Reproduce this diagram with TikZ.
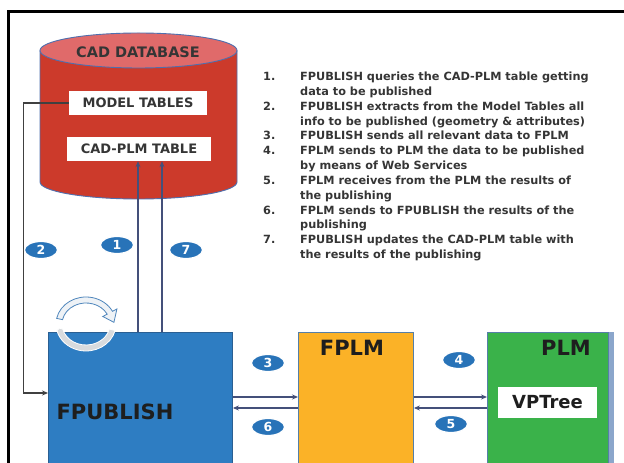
\documentclass[tikz,border=0pt]{standalone}
\usepackage{fontspec}
\setmainfont{DejaVu Sans}
\usetikzlibrary{shapes.geometric,calc,arrows.meta}

\definecolor{dbred}{HTML}{CC3A2B}
\definecolor{dbtop}{HTML}{E06A6A}
\definecolor{dbedge}{HTML}{4F6FAE}
\definecolor{pubblue}{HTML}{2E7DC2}
\definecolor{pubedge}{HTML}{2A5F92}
\definecolor{fplmorange}{HTML}{FBB227}
\definecolor{plmgreen}{HTML}{3AB24A}
\definecolor{stripblue}{HTML}{8BA6CB}
\definecolor{badgeblue}{HTML}{2873B8}
\definecolor{arrnavy}{HTML}{44507A}
\definecolor{linkgray}{HTML}{404040}
\definecolor{inkgray}{HTML}{1E1E1E}
\definecolor{cyclefill}{HTML}{EEF2F6}
\definecolor{cycleedge}{HTML}{4F86BC}

\tikzset{
  x=1pt, y=1pt,
  block/.style={rectangle, draw=pubedge, line width=0.9pt, anchor=north west,
    minimum height=141pt, inner sep=0pt},
  tbl/.style={rectangle, fill=white, inner sep=0pt, text=inkgray!90,
    font=\bfseries\fontsize{13}{13}\selectfont},
  title/.style={inner sep=0pt, text=inkgray, font=\bfseries\fontsize{21}{21}\selectfont},
  badge/.style={ellipse, fill=badgeblue, draw=white, line width=1.2pt,
    minimum width=33pt, minimum height=17pt, inner sep=0pt, text=white,
    font=\bfseries\fontsize{12.5}{12.5}\selectfont},
  arr/.style={-{Stealth[length=6pt,width=5pt]}, draw=arrnavy, line width=1.3pt},
  linkarr/.style={-{Stealth[length=6pt,width=5pt]}, draw=linkgray, line width=1.1pt},
}

\begin{document}
\begin{tikzpicture}
\useasboundingbox (0,0) rectangle (624,463);
\fill[white] (0,0) rectangle (624,463);

% outer frame (left and top edges)
\draw[line width=2.8pt] (8.7,-3) -- (8.7,451.3) -- (627,451.3);

% CAD database cylinder
\fill[dbred] (40,412.5) -- (40,281)
  arc[start angle=180, end angle=360, x radius=98.5, y radius=17] -- (237,412.5) -- cycle;
\draw[dbedge, line width=0.9pt] (40,412.5) -- (40,281)
  arc[start angle=180, end angle=360, x radius=98.5, y radius=17] -- (237,412.5);
\filldraw[fill=dbtop, draw=dbedge, line width=0.9pt] (138.5,412.5) ellipse [x radius=98.5, y radius=17.5];
\node[inner sep=0pt, text=inkgray!90, font=\bfseries\fontsize{14.5}{14.5}\selectfont] (db) at (138,411) {CAD DATABASE};
\node[tbl, minimum width=138pt, minimum height=24pt] (model) at (138,360) {MODEL TABLES};
\node[tbl, minimum width=144pt, minimum height=24pt] (cadplm) at (139,314) {CAD-PLM TABLE};

% process blocks
\node[block, fill=pubblue, minimum width=184pt] (pub) at (48,131) {};
\node[block, fill=fplmorange, draw=pubedge!80, minimum width=115pt] (fplm) at (298,131) {};
\node[block, fill=plmgreen, draw=pubedge!80, minimum width=121pt] (plm) at (487,131) {};
\fill[stripblue] (608.5,131) rectangle (614,-10);

\node[title] (pubtxt) at (115,51) {FPUBLISH};
\node[title] (fplmtxt) at (352,115) {FPLM};
\node[title] (plmtxt) at (566,115) {PLM};
\node[rectangle, fill=white, inner sep=0pt, minimum width=99pt, minimum height=31pt,
  text=inkgray, font=\bfseries\fontsize{18}{18}\selectfont] (vptree) at (547.5,60.5) {VPTree};

% cycle symbol on FPUBLISH
\coordinate (cyc) at (86,139);
\filldraw[fill=cyclefill, draw=cycleedge, line width=0.8pt]
  ($(cyc)+(168:30 and 27)$) arc[start angle=168, end angle=28, x radius=30, y radius=27]
  -- ($(cyc)+(28:35 and 32)$) -- ($(cyc)+(4:28 and 24)$) -- ($(cyc)+(28:19 and 16)$)
  -- ($(cyc)+(28:24 and 21)$) arc[start angle=28, end angle=168, x radius=24, y radius=21] -- cycle;
\filldraw[fill=cyclefill!80!gray, draw=white, line width=0.8pt]
  ($(cyc)+(-14:30 and 27)$) arc[start angle=-14, end angle=-166, x radius=30, y radius=27]
  -- ($(cyc)+(-170:27 and 24)$)
  -- ($(cyc)+(-166:24 and 21)$) arc[start angle=-166, end angle=-14, x radius=24, y radius=21] -- cycle;

% step list
\node[anchor=base west, inner sep=0pt, text=inkgray!90,
  font=\bfseries\fontsize{11.3}{14.85}\selectfont] (steps) at (263,382.5) {%
\begin{tabular}[t]{@{}p{37pt}@{}l@{}}
1. & FPUBLISH queries the CAD-PLM table getting\\
   & data to be published\\
2. & FPUBLISH extracts from the Model Tables all\\
   & info to be published (geometry \& attributes)\\
3. & FPUBLISH sends all relevant data to FPLM\\
4. & FPLM sends to PLM the data to be published\\
   & by means of Web Services\\
5. & FPLM receives from the PLM the results of\\
   & the publishing\\
6. & FPLM sends to FPUBLISH the results of the\\
   & publishing\\
7. & FPUBLISH updates the CAD-PLM table with\\
   & the results of the publishing
\end{tabular}};

% connectors
\draw[linkarr] (model.west) -- ++(-45,0) |- ([yshift=-61pt]pub.north west);
\coordinate (up1) at ([xshift=90pt]pub.north west);
\coordinate (up7) at ([xshift=114pt]pub.north west);
\draw[arr] (up1) -- (up1 |- cadplm.south);
\draw[arr] (up7) -- (up7 |- cadplm.south);
\coordinate (r3) at ([yshift=-65pt]pub.north east);
\coordinate (r6) at ([yshift=-76pt]fplm.north west);
\draw[arr] (r3) -- (r3 -| fplm.west);
\draw[arr] (r6) -- (r6 -| pub.east);
\coordinate (r4) at ([yshift=-65pt]fplm.north east);
\coordinate (r5) at ([yshift=-76pt]plm.north west);
\draw[arr] (r4) -- (r4 -| plm.west);
\draw[arr] (r5) -- (r5 -| fplm.east);

% step badges
\node[badge] (b1) at (117,218) {1};
\node[badge] (b2) at (41,213) {2};
\node[badge] (b7) at (186,213) {7};
\node[badge] (b3) at (268,100) {3};
\node[badge] (b6) at (268,36) {6};
\node[badge] (b4) at (459,103) {4};
\node[badge] (b5) at (451,39) {5};
\end{tikzpicture}
\end{document}
